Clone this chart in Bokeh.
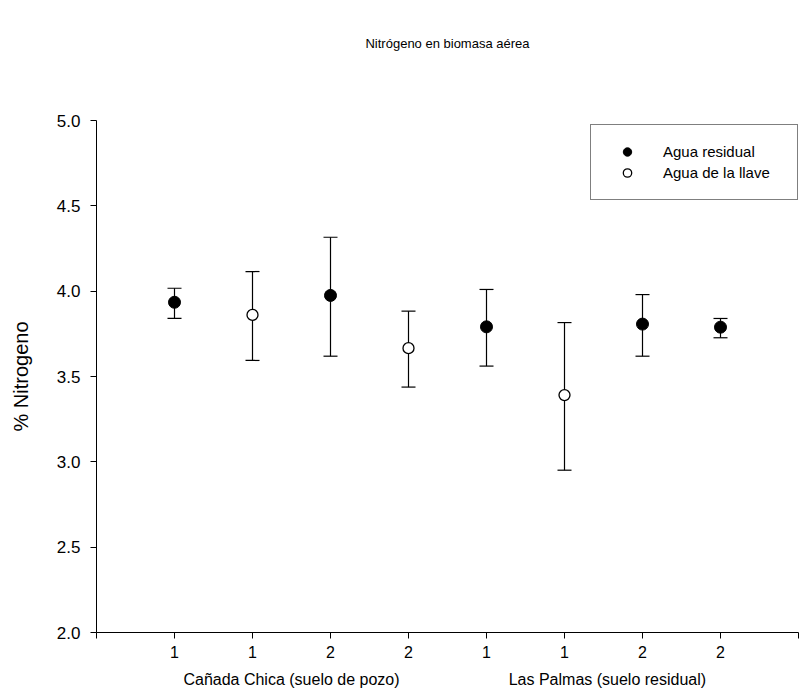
from bokeh.plotting import figure
from bokeh.models import (ColumnDataSource, Whisker, TeeHead, FixedTicker, LinearAxis,
                          Range1d, Legend, LegendItem, PrintfTickFormatter, Title)
from bokeh.embed import file_html
from bokeh.resources import INLINE

# ---- data ----
x_pos = [1, 2, 3, 4, 5, 6, 7, 8]
tick_labels = ["1", "1", "2", "2", "1", "1", "2", "2"]
water = ["residual", "llave", "residual", "llave", "residual", "llave", "residual", "residual"]
means = [3.935, 3.861, 3.975, 3.666, 3.791, 3.391, 3.807, 3.789]
upper = [4.017, 4.115, 4.316, 3.883, 4.010, 3.816, 3.980, 3.840]
lower = [3.840, 3.594, 3.619, 3.438, 3.561, 2.951, 3.619, 3.727]
sites = ["Cañada Chica (suelo de pozo)", "Las Palmas (suelo residual)"]
site_pos = [2.5, 6.55]
legend_labels = ["Agua residual", "Agua de la llave"]
y_ticks = [2.0, 2.5, 3.0, 3.5, 4.0, 4.5, 5.0]
title_text = "Nitrógeno en biomasa aérea"
y_label = "% Nitrogeno"

FONT = "Liberation Sans"

all_src = ColumnDataSource(dict(x=x_pos, y=means, upper=upper, lower=lower))
idx_res = [i for i, w in enumerate(water) if w == "residual"]
idx_llv = [i for i, w in enumerate(water) if w == "llave"]
src_res = ColumnDataSource(dict(x=[x_pos[i] for i in idx_res], y=[means[i] for i in idx_res]))
src_llv = ColumnDataSource(dict(x=[x_pos[i] for i in idx_llv], y=[means[i] for i in idx_llv]))

p = figure(width=808, height=693, x_range=Range1d(0, 9), y_range=Range1d(2, 5),
           output_backend="svg", toolbar_location=None, title_location=None,
           min_border_left=96, min_border_right=10, min_border_top=120, min_border_bottom=61)
p.grid.visible = False
p.outline_line_color = None
p.background_fill_color = "white"
p.border_fill_color = "white"

# spacer (closest to the frame) then the real title above it
spacer = Title(text=" ", standoff=51, text_font=FONT, text_font_size="13px")
p.add_layout(spacer, "above")
main_title = Title(text=title_text, align="center", standoff=4, text_font=FONT,
                   text_font_size="13px", text_font_style="normal", text_color="black")
p.add_layout(main_title, "above")

# x axis
xa = p.xaxis[0]
xa.ticker = FixedTicker(ticks=list(range(0, 10)))
ov = {0: "", 9: ""}
for xp, lab in zip(x_pos, tick_labels):
    ov[xp] = lab
xa.major_label_overrides = ov
xa.minor_tick_line_color = None
xa.major_tick_in = 0
xa.major_tick_out = 6
xa.axis_line_color = "black"
xa.major_tick_line_color = "black"
xa.major_label_text_color = "black"
xa.major_label_text_font = FONT
xa.major_label_text_font_size = "16px"
xa.major_label_standoff = 7

# y axis
ya = p.yaxis[0]
ya.ticker = FixedTicker(ticks=y_ticks)
ya.formatter = PrintfTickFormatter(format="%.1f")
ya.minor_tick_line_color = None
ya.major_tick_in = 0
ya.major_tick_out = 6
ya.axis_line_color = "black"
ya.major_tick_line_color = "black"
ya.major_label_text_color = "black"
ya.major_label_text_font = FONT
ya.major_label_text_font_size = "17px"
ya.major_label_standoff = 10
ya.axis_label = y_label
ya.axis_label_text_font = FONT
ya.axis_label_text_font_size = "20px"
ya.axis_label_text_font_style = "normal"
ya.axis_label_text_color = "black"
ya.axis_label_standoff = 22

# site labels as second bottom axis
sa = LinearAxis(ticker=FixedTicker(ticks=site_pos),
                major_label_overrides={site_pos[0]: sites[0], site_pos[1]: sites[1]})
sa.axis_line_color = None
sa.major_tick_line_color = None
sa.minor_tick_line_color = None
sa.major_label_text_color = "black"
sa.major_label_text_font = FONT
sa.major_label_text_font_size = "16px"
sa.major_label_standoff = 4
p.add_layout(sa, "below")

# error bars
w = Whisker(source=all_src, base="x", upper="upper", lower="lower",
            line_color="black", line_width=1.2,
            upper_head=TeeHead(size=14, line_color="black", line_width=1.2),
            lower_head=TeeHead(size=14, line_color="black", line_width=1.2))
p.add_layout(w)

r_res = p.scatter("x", "y", source=src_res, size=12, fill_color="black", line_color="black")
r_llv = p.scatter("x", "y", source=src_llv, size=11, fill_color="white", line_color="black",
                  line_width=1.3)

legend = Legend(items=[LegendItem(label=legend_labels[0], renderers=[r_res]),
                       LegendItem(label=legend_labels[1], renderers=[r_llv])],
                location=(494, 432))
legend.border_line_color = "black"
legend.border_line_width = 1
legend.background_fill_color = "white"
legend.background_fill_alpha = 1
legend.padding = 16
legend.spacing = 0
legend.margin = 0
legend.glyph_width = 40
legend.glyph_height = 21
legend.label_height = 21
legend.label_standoff = 16
legend.label_width = 118
legend.label_text_font = FONT
legend.label_text_font_size = "15px"
legend.label_text_color = "black"
p.add_layout(legend)

open("out.html", "w").write(file_html(p, INLINE))
